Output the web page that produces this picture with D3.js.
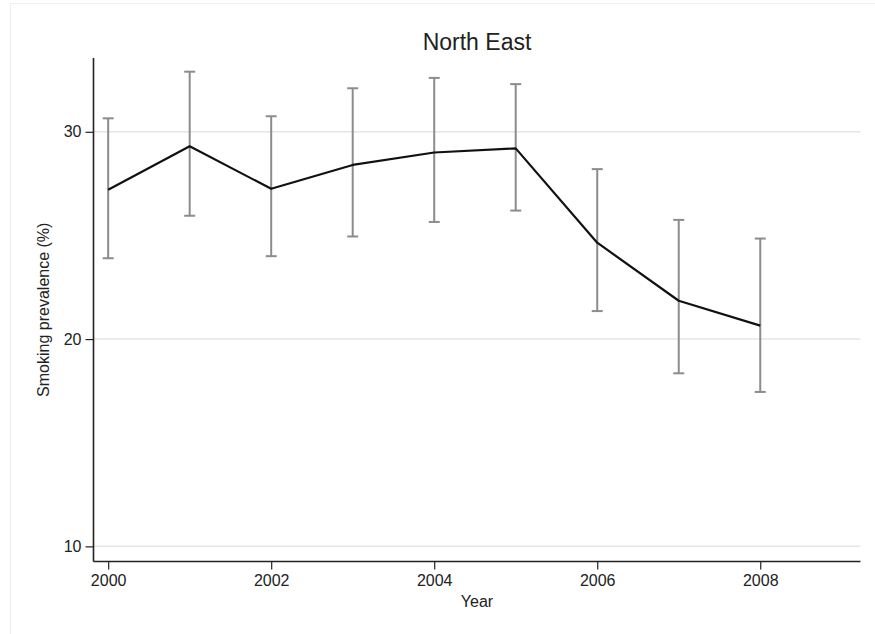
<!DOCTYPE html>
<html>
<head>
<meta charset="utf-8">
<script src="https://cdn.jsdelivr.net/npm/d3@7"></script>
<style>
  html, body { margin: 0; padding: 0; background: #fff; }
  svg { display: block; }
  text { font-family: Arial, "Liberation Sans", sans-serif; fill: #222; }
</style>
</head>
<body>
<svg id="chart" width="875" height="634"></svg>
<script>
const years = [2000, 2001, 2002, 2003, 2004, 2005, 2006, 2007, 2008];
const prevalence = [27.2, 29.3, 27.25, 28.4, 29.0, 29.2, 24.65, 21.85, 20.65];
const upperCI = [30.65, 32.9, 30.75, 32.1, 32.6, 32.3, 28.2, 25.75, 24.85];
const lowerCI = [23.9, 25.95, 24.0, 24.95, 25.65, 26.2, 21.35, 18.35, 17.45];
const yTicks = [10, 20, 30];
const xTicks = [2000, 2002, 2004, 2006, 2008];
const titleText = "North East";
const xLabel = "Year";
const yLabel = "Smoking prevalence (%)";

const svg = d3.select("#chart");
const mLeft = 93.5, mRight = 860.5, mTop = 58, mBottom = 561.5;

// faint outer frame
svg.append("rect").attr("x", 10.5).attr("y", 3.5).attr("width", 880).attr("height", 700)
  .attr("fill", "none").attr("stroke", "#efefef").attr("stroke-width", 1);

const x = d3.scaleLinear().domain([1999.82, 2009.23]).range([mLeft, mRight]);
const y = d3.scaleLinear().domain([9.27, 33.56]).range([mBottom, mTop]);

// gridlines
svg.append("g").selectAll("line").data(yTicks).join("line")
  .attr("x1", mLeft).attr("x2", mRight)
  .attr("y1", d => y(d)).attr("y2", d => y(d))
  .attr("stroke", "#e6e6e6").attr("stroke-width", 1.5);

// axes
const yAxis = d3.axisLeft(y).tickValues(yTicks).tickSize(8).tickPadding(4).tickFormat(d3.format("d"));
const gy = svg.append("g").attr("transform", `translate(${mLeft},0)`).call(yAxis);
gy.select(".domain").attr("stroke", "#222").attr("stroke-width", 1.6).attr("d", `M0,${mTop}V${mBottom}`);
gy.selectAll(".tick line").attr("stroke", "#222").attr("stroke-width", 1.2);
gy.selectAll(".tick text").attr("font-size", 16).attr("fill", "#222")
  .attr("font-family", "Arial, 'Liberation Sans', sans-serif");

const xAxis = d3.axisBottom(x).tickValues(xTicks).tickSize(8).tickPadding(5).tickFormat(d3.format("d"));
const gx = svg.append("g").attr("transform", `translate(0,${mBottom})`).call(xAxis);
gx.select(".domain").attr("stroke", "#222").attr("stroke-width", 1.6).attr("d", `M${mLeft},0H${mRight}`);
gx.selectAll(".tick line").attr("stroke", "#222").attr("stroke-width", 1.2);
gx.selectAll(".tick text").attr("font-size", 16).attr("fill", "#222")
  .attr("font-family", "Arial, 'Liberation Sans', sans-serif");

// error bars
const idx = d3.range(years.length);
const eb = svg.append("g").attr("stroke", "#8c8c8c").attr("stroke-width", 2).attr("fill", "none");
eb.selectAll("line.v").data(idx).join("line").attr("class", "v")
  .attr("x1", i => x(years[i])).attr("x2", i => x(years[i]))
  .attr("y1", i => y(upperCI[i])).attr("y2", i => y(lowerCI[i]));
eb.selectAll("line.u").data(idx).join("line").attr("class", "u")
  .attr("x1", i => x(years[i]) - 5.5).attr("x2", i => x(years[i]) + 5.5)
  .attr("y1", i => y(upperCI[i])).attr("y2", i => y(upperCI[i]));
eb.selectAll("line.l").data(idx).join("line").attr("class", "l")
  .attr("x1", i => x(years[i]) - 5.5).attr("x2", i => x(years[i]) + 5.5)
  .attr("y1", i => y(lowerCI[i])).attr("y2", i => y(lowerCI[i]));

// line
const line = d3.line().x(i => x(years[i])).y(i => y(prevalence[i]));
svg.append("path").datum(idx).attr("d", line)
  .attr("fill", "none").attr("stroke", "#111").attr("stroke-width", 2.2)
  .attr("stroke-linejoin", "round");

// title & labels
svg.append("text").attr("x", (mLeft + mRight) / 2).attr("y", 50).attr("text-anchor", "middle")
  .attr("font-size", 23).text(titleText);
svg.append("text").attr("x", (mLeft + mRight) / 2).attr("y", 607).attr("text-anchor", "middle")
  .attr("font-size", 16).text(xLabel);
svg.append("text").attr("transform", `translate(49,${(mTop + mBottom) / 2}) rotate(-90)`)
  .attr("text-anchor", "middle").attr("font-size", 16).text(yLabel);
</script>
</body>
</html>
